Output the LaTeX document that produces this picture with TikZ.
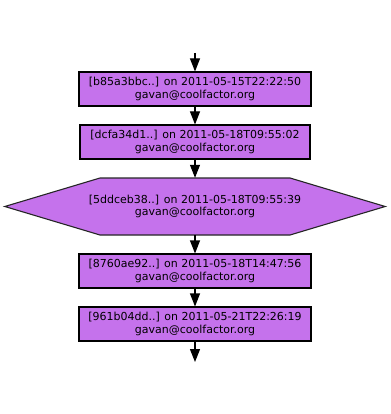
\documentclass[tikz,border=0pt]{standalone}
\usepackage{fontspec}
\setmainfont{DejaVu Sans}
\usetikzlibrary{arrows.meta}
\definecolor{nodefill}{HTML}{C572EC}
\begin{document}
\begin{tikzpicture}[x=1pt,y=-1pt,
  commit/.style={draw=black,fill=nodefill,line width=1.1pt,minimum width=232pt,minimum height=34pt,inner sep=0pt,align=center,font=\fontsize{11}{12.5}\selectfont},
  hexlabel/.style={minimum width=380pt,minimum height=57pt,inner sep=0pt,align=center,font=\fontsize{11}{12.5}\selectfont},
  edge/.style={line width=1.1pt,-{Triangle[length=13pt,width=10pt]}}]
\useasboundingbox (0,0) rectangle (390,414);
\coordinate (top) at (195,53);
\node[commit] (n1) at (195,89) {[b85a3bbc..] on 2011-05-15T22:22:50\\gavan@coolfactor.org};
\node[commit,minimum width=230pt] (n2) at (195,142) {[dcfa34d1..] on 2011-05-18T09:55:02\\gavan@coolfactor.org};
\node[hexlabel] (n3) at (195,206.5) {};
\fill[nodefill,draw=black!85,line width=1.1pt] (n3.west) -- (100,178) -- (290,178) -- (n3.east) -- (290,235) -- (100,235) -- cycle;
\node[font=\fontsize{11}{12.5}\selectfont,align=center] at (n3.center) {[5ddceb38..] on 2011-05-18T09:55:39\\gavan@coolfactor.org};
\node[commit] (n4) at (195,271) {[8760ae92..] on 2011-05-18T14:47:56\\gavan@coolfactor.org};
\node[commit] (n5) at (195,324) {[961b04dd..] on 2011-05-21T22:26:19\\gavan@coolfactor.org};
\coordinate (bot) at (195,362);
\draw[edge] (top) -- (n1.north);
\draw[edge] (n1) -- (n2);
\draw[edge] (n2) -- (n3.north);
\draw[edge] (n3.south) -- (n4);
\draw[edge] (n4) -- (n5);
\draw[edge] (n5) -- (bot);
\end{tikzpicture}
\end{document}
